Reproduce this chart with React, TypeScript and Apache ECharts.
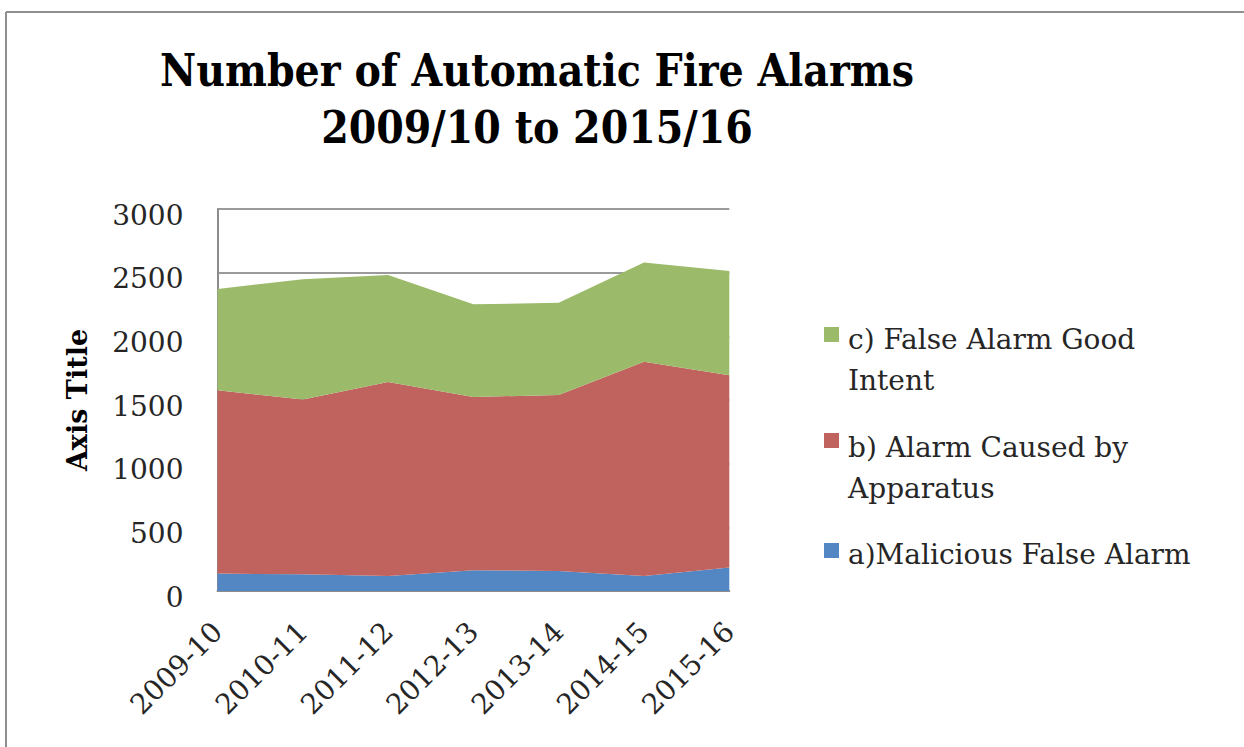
import React, { useEffect, useRef } from "react";
import * as echarts from "echarts";

// Financial years shown along the bottom axis
const years = ["2009-10", "2010-11", "2011-12", "2012-13", "2013-14", "2014-15", "2015-16"];

// Incident counts per category, stacked bottom to top
const maliciousFalseAlarm = [137, 131, 118, 163, 158, 118, 184];
const causedByApparatus = [1439, 1372, 1524, 1361, 1381, 1682, 1510];
const goodIntent = [796, 945, 840, 727, 725, 780, 820];

const seriesNames = [
  "a)Malicious False Alarm",
  "b) Alarm Caused by Apparatus",
  "c) False Alarm Good Intent",
];
// Legend labels, wrapped as in the legend box (top to bottom order)
const legendLabels = [
  "c) False Alarm Good\nIntent",
  "b) Alarm Caused by\nApparatus",
  "a)Malicious False Alarm",
];

const yTicks = { min: 0, max: 3000, interval: 500 };

const COLORS = {
  malicious: "#5387c3",
  apparatus: "#c0625d",
  goodIntent: "#9bbb6a",
};

const BODY_FONT = "'DejaVu Serif', serif";
const TITLE_FONT = "'DejaVu Serif Condensed', 'DejaVu Serif', serif";

export default function App() {
  const ref = useRef<HTMLDivElement>(null);

  useEffect(() => {
    if (!ref.current) return;
    const chart = echarts.init(ref.current, undefined, { renderer: "svg" });

    const area = (name: string, data: number[], color: string) => ({
      name,
      type: "line",
      stack: "total",
      data,
      symbol: "none",
      showSymbol: false,
      lineStyle: { width: 0 },
      itemStyle: { color },
      areaStyle: { color, opacity: 1 },
    });

    const legendX = 824;
    const legendTextX = 848;
    const legendRows = [
      { color: COLORS.goodIntent, iconY: 327, textTop: 319 },
      { color: COLORS.apparatus, iconY: 433, textTop: 427 },
      { color: COLORS.malicious, iconY: 543, textTop: 534 },
    ];

    const legendGraphics: any[] = [];
    legendRows.forEach((row, i) => {
      legendGraphics.push({
        type: "rect",
        shape: { x: legendX, y: row.iconY, width: 15, height: 15 },
        style: { fill: row.color },
      });
      legendGraphics.push({
        type: "text",
        x: legendTextX,
        y: row.textTop,
        style: {
          text: legendLabels[i],
          font: `28px ${BODY_FONT}`,
          fill: "#262626",
          lineHeight: 41,
          verticalAlign: "top",
          align: "left",
        },
      });
    });

    chart.setOption({
      animation: false,
      backgroundColor: "#ffffff",
      title: {
        text: "Number of Automatic Fire Alarms\n2009/10 to 2015/16",
        left: 537,
        top: 42,
        padding: 0,
        textAlign: "center",
        textStyle: {
          fontFamily: TITLE_FONT,
          fontWeight: "bold",
          fontSize: 44,
          lineHeight: 57,
          color: "#000000",
        },
      },
      grid: { left: 217.5, right: 514.7, top: 209, bottom: 156, containLabel: false },
      xAxis: {
        type: "category",
        data: years,
        boundaryGap: false,
        axisLine: { show: true, lineStyle: { color: "#8c8c8c", width: 2 } },
        axisTick: { show: false },
        splitLine: { show: false },
        axisLabel: {
          rotate: 45,
          margin: 36,
          fontFamily: BODY_FONT,
          fontSize: 28,
          color: "#262626",
          interval: 0,
        },
      },
      yAxis: {
        type: "value",
        min: yTicks.min,
        max: yTicks.max,
        interval: yTicks.interval,
        name: "Axis Title",
        nameLocation: "middle",
        nameGap: 127,
        nameRotate: 90,
        nameTextStyle: {
          fontFamily: BODY_FONT,
          fontWeight: "bold",
          fontSize: 27,
          color: "#000000",
        },
        axisLine: { show: true, lineStyle: { color: "#8c8c8c", width: 2 } },
        axisTick: { show: false },
        splitLine: { show: true, lineStyle: { color: "#9a9a9a", width: 2 } },
        axisLabel: {
          margin: 34,
          color: "#262626",
          formatter: (v: number) => `{t|${v}}`,
          rich: {
            t: {
              fontFamily: BODY_FONT,
              fontSize: 28,
              color: "#262626",
              padding: [12, 0, 0, 0],
            },
          },
        },
      },
      series: [
        area(seriesNames[0], maliciousFalseAlarm, COLORS.malicious),
        area(seriesNames[1], causedByApparatus, COLORS.apparatus),
        area(seriesNames[2], goodIntent, COLORS.goodIntent),
      ],
      graphic: [
        // frame edges along the top and left of the chart area
        {
          type: "line",
          shape: { x1: 6, y1: 12, x2: 1244, y2: 12 },
          style: { stroke: "#8f8f8f", lineWidth: 2 },
        },
        {
          type: "line",
          shape: { x1: 6, y1: 12, x2: 6, y2: 747 },
          style: { stroke: "#8f8f8f", lineWidth: 2 },
        },
        ...legendGraphics,
      ],
    });

    return () => chart.dispose();
  }, []);

  return (
    <div
      ref={ref}
      style={{ position: "fixed", left: 0, top: 0, width: 1244, height: 747, background: "#fff" }}
    />
  );
}
